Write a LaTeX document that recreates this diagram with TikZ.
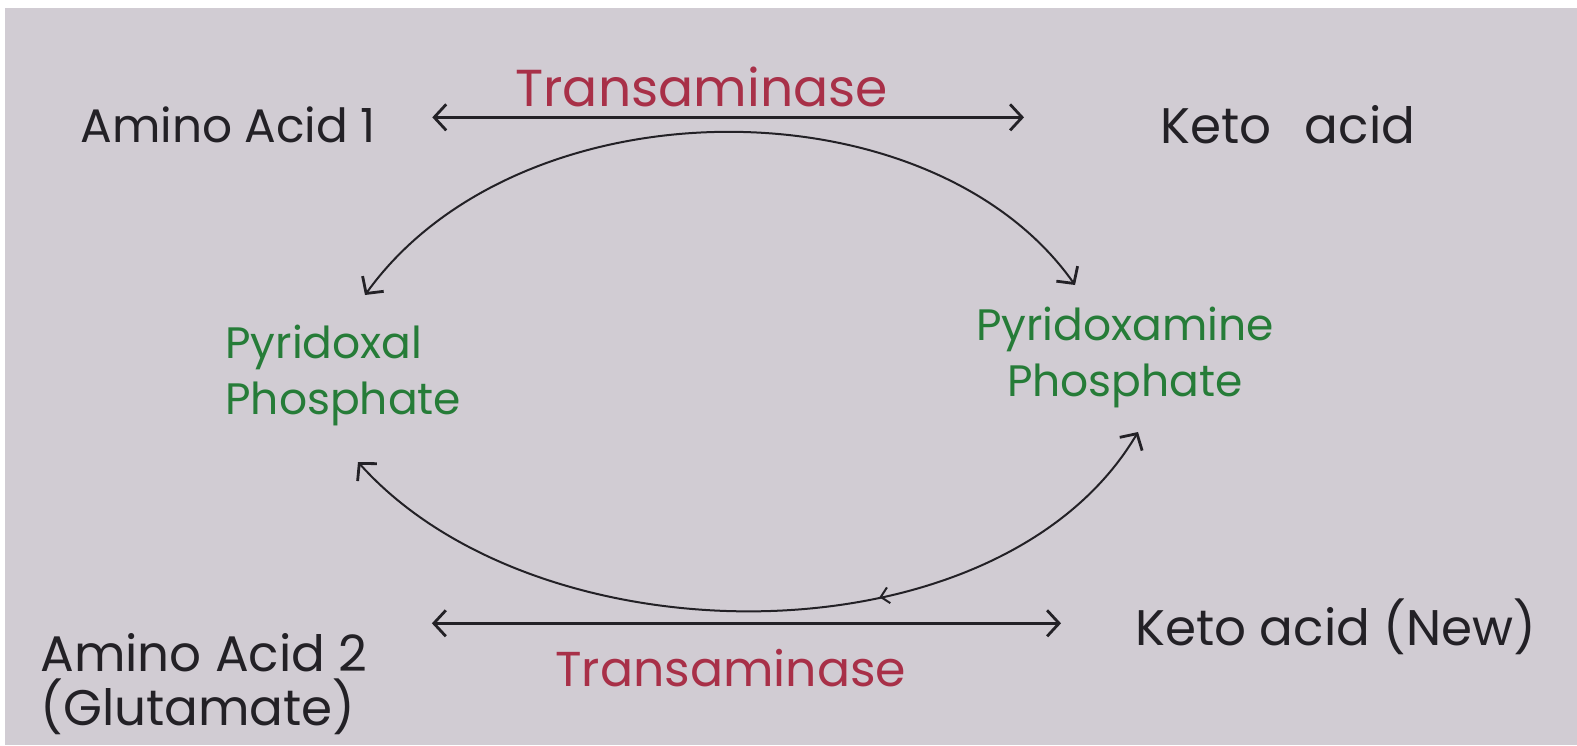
\documentclass[tikz,border=0pt]{standalone}
\usepackage{fontspec}
\setmainfont{Poppins}
\usetikzlibrary{arrows.meta,decorations.markings}
\definecolor{paper}{RGB}{209,204,211}
\definecolor{ink}{RGB}{35,33,38}
\definecolor{enzred}{RGB}{168,48,72}
\definecolor{cofgreen}{RGB}{38,124,56}
\tikzset{
  blk/.style={text=ink, font=\fontsize{25}{27}\selectfont, inner sep=0pt},
  enz/.style={text=enzred, font=\fontsize{26}{30}\selectfont, inner sep=0pt},
  cof/.style={text=cofgreen, font=\fontsize{22}{28}\selectfont, inner sep=0pt},
  barb/.tip={Straight Barb[length=6pt,width=13pt,line width=1.4pt]},
  rxn/.style={draw=ink, line width=1.4pt, barb-barb},
  cyc/.style={draw=ink, line width=1pt, barb-barb}
}
\begin{document}
\begin{tikzpicture}[x=0.5pt,y=-0.5pt]
\fill[white] (0,0) rectangle (1577,745);
\fill[paper] (5,8) rectangle (1577,745);
\useasboundingbox (0,0) rectangle (1577,745);

\node[blk, font=\fontsize{23.5}{27}\selectfont, anchor=base west] (aa1) at (80,142) {Amino Acid 1};
\node[blk, anchor=base west] (ka) at (1160,143) {Keto\hspace{0.4em} acid};
\node[enz, anchor=base west] (t1) at (515,106) {Transaminase};
\node[cof, anchor=west, align=left] (pl) at (225,375) {Pyridoxal\\Phosphate};
\node[cof, align=center] (pm) at (1125,357) {Pyridoxamine\\Phosphate};
\node[blk, anchor=west, align=left] (aa2) at (40,684) {Amino Acid 2\\(Glutamate)};
\node[enz, font=\fontsize{24.5}{30}\selectfont, anchor=base west] (t2) at (555,686) {Transaminase};
\node[blk, anchor=base west] (kan) at (1135,645) {Keto acid (New)};

% horizontal reaction arrows
\path (aa1.east) ++(0,-7) coordinate (r1a);
\draw[rxn, shorten <=28pt, shorten >=68pt] (r1a) -- (r1a -| ka.west);
\path (kan.west) ++(0,-3) coordinate (r2b);
\draw[rxn, shorten <=32pt, shorten >=37pt] (r2b -| aa2.east) -- (r2b);

% cofactor cycle
\coordinate (c1) at (365,295);
\coordinate (c2) at (1075,285);
\coordinate (c3) at (358,462);
\coordinate (c4) at (1138,432);
\draw[cyc] (c1) .. controls (520,80) and (930,80) .. (c2);
\draw[cyc, postaction=decorate,
  decoration={markings, mark=at position 0.64 with {\arrowreversed{Straight Barb[length=4pt,width=8pt,line width=1pt]}}}]
  (c3) .. controls (540,665) and (1000,665) .. (c4);
\end{tikzpicture}
\end{document}
